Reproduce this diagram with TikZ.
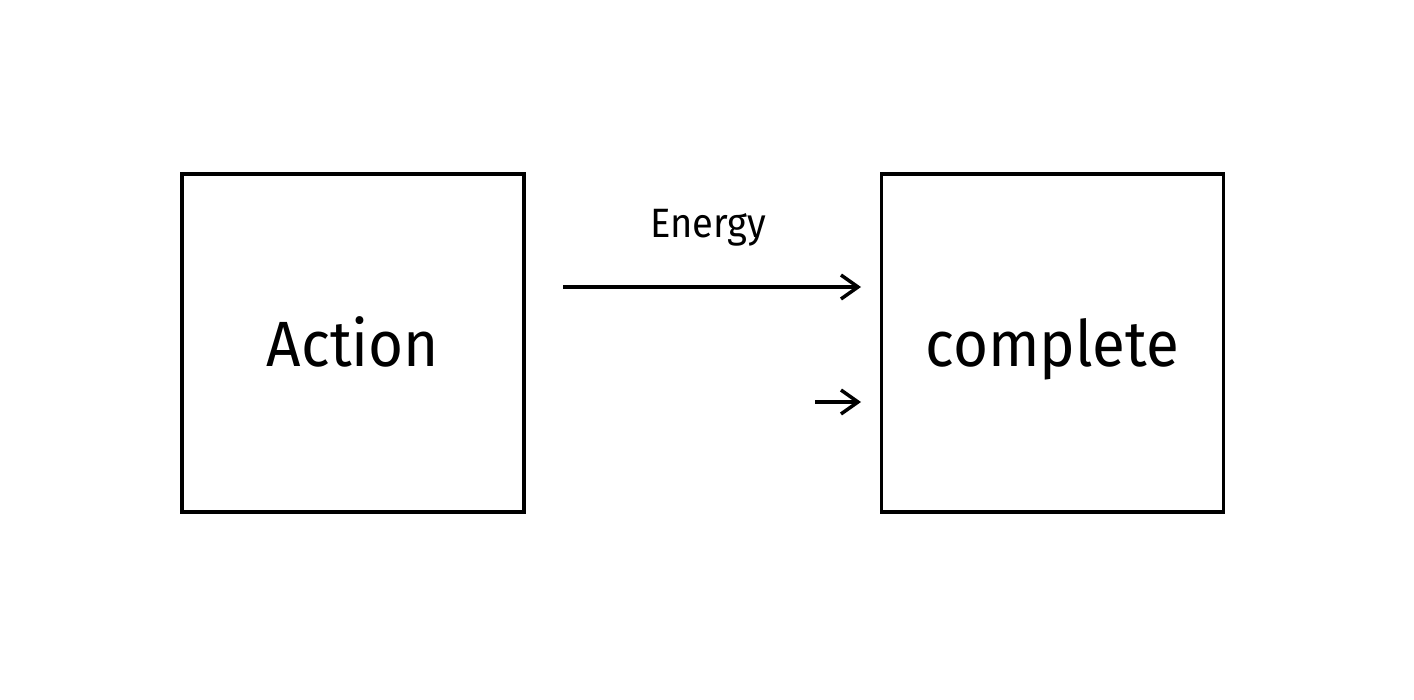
\documentclass[tikz,border=0pt]{standalone}
\usepackage{fontspec}
\setmainfont{Fira Sans}[Scale=1]
\usetikzlibrary{arrows.meta}
\begin{document}
\begin{tikzpicture}[x=1pt,y=-1pt,
  box/.style={draw=black,line width=3.5pt,minimum width=342pt,minimum height=338pt,inner sep=0pt,text height=48pt,text depth=0pt,font=\fontsize{64}{70}\selectfont\addfontfeatures{FakeStretch=0.94}},
  conn/.style={line width=4pt,-{Straight Barb[length=17pt,width=24pt,line width=3.5pt]}},
  lbl/.style={font=\fontsize{41}{46}\selectfont\addfontfeatures{FakeStretch=0.93},inner sep=0pt,anchor=base}]
\useasboundingbox[fill=white] (0,0) rectangle (1414,700);
\node[box] (a) at (353,343) {Action};
\node[box] (c) at (1052.5,343) {complete};
\coordinate (s1) at (563,287);
\coordinate (e1) at (861,287);
\coordinate (s2) at (815,402);
\coordinate (e2) at (861,402);
\draw[conn] (s1) -- (e1);
\draw[conn] (s2) -- (e2);
\node[lbl] (en) at (708,238) {Energy};
\end{tikzpicture}
\end{document}
